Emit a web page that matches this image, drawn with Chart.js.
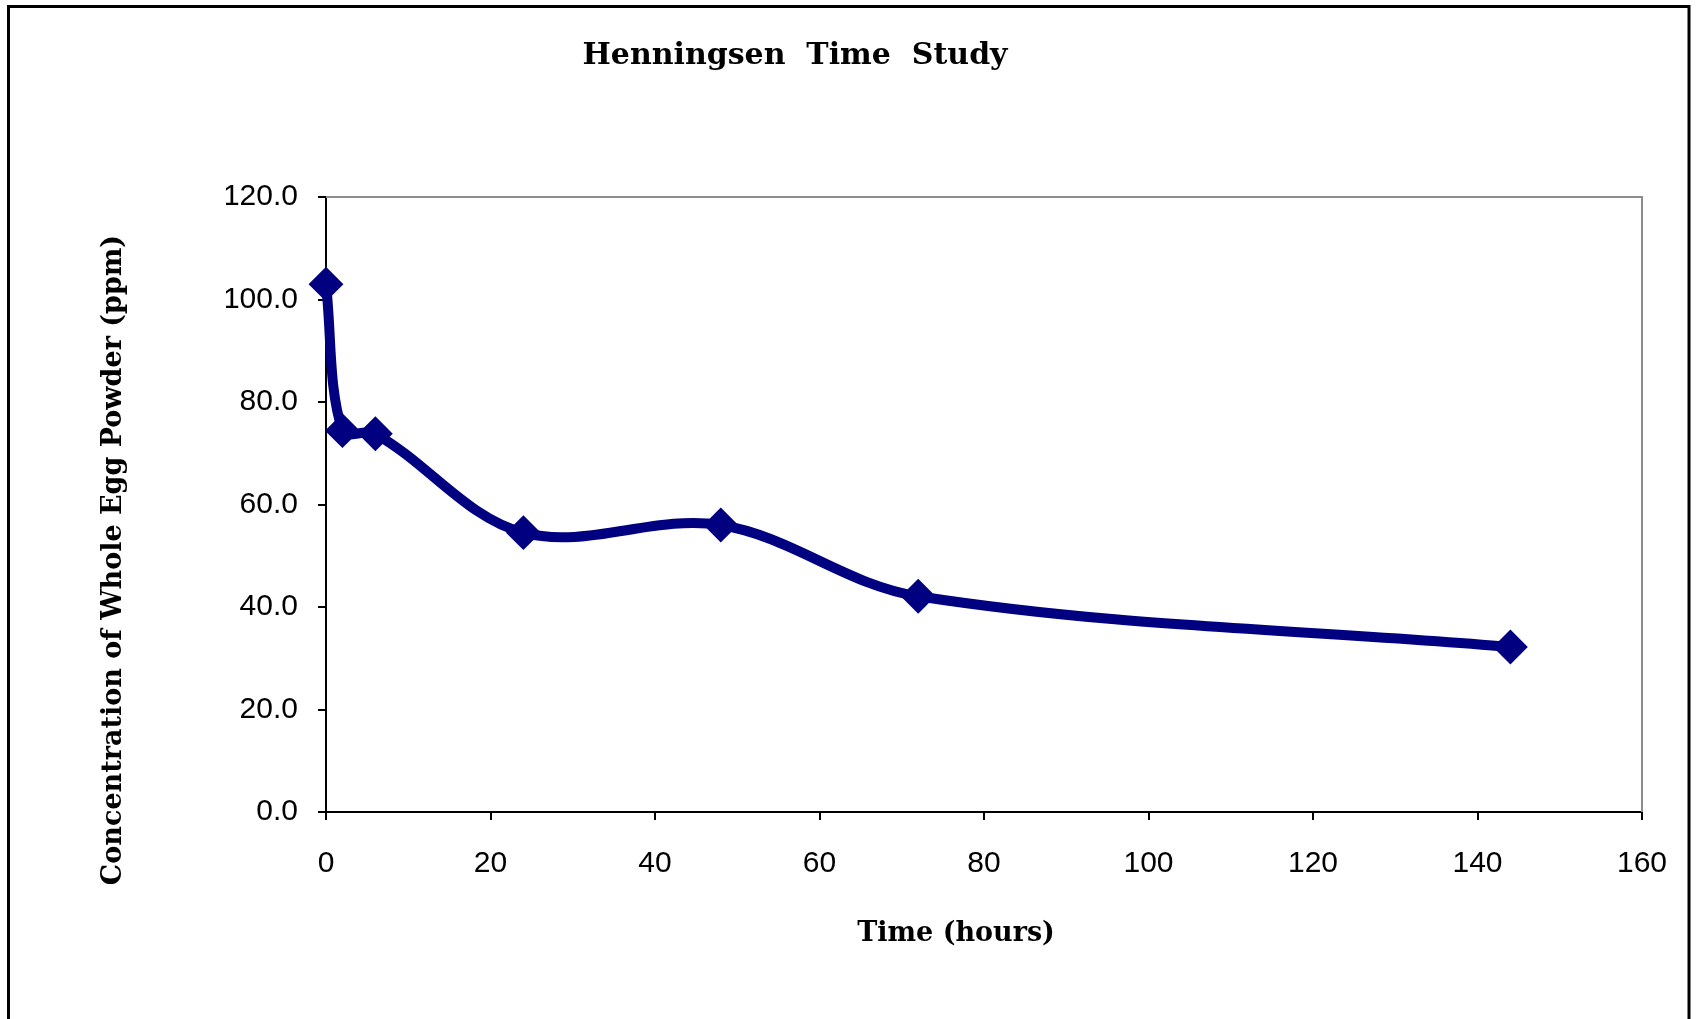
<!DOCTYPE html>
<html>
<head>
<meta charset="utf-8">
<title>Henningsen Time Study</title>
<script src="https://cdn.jsdelivr.net/npm/chart.js@4/dist/chart.umd.min.js"></script>
<style>
    html, body { margin: 0; padding: 0; background: #ffffff; }
    #wrap { width: 1696px; height: 1019px; position: relative; }
</style>
</head>
<body>
<div id="wrap"><canvas id="timeChart" width="1696" height="1019"></canvas></div>
<script>
const hours = [0, 2, 6, 24, 48, 72, 144];
const concentration = [103.0, 74.4, 73.8, 54.5, 56.0, 42.1, 32.2];
const xTicks = [0, 20, 40, 60, 80, 100, 120, 140, 160];
const yTicks = [0, 20, 40, 60, 80, 100, 120];

const chartTitle = 'Henningsen  Time  Study';
const xTitle = 'Time (hours)';
const yTitle = 'Concentration of Whole Egg Powder (ppm)';

const serifBold = 'bold 30px "DejaVu Serif", "Liberation Serif", serif';
const serifBoldAxis = 'bold 27px "DejaVu Serif", "Liberation Serif", serif';

// frame, plot outline and the hand placed titles
const decorations = {
    id: 'decorations',
    beforeDatasetsDraw(chart) {
        const { ctx, chartArea } = chart;
        ctx.save();
        ctx.strokeStyle = '#8c8c8c';
        ctx.lineWidth = 2;
        ctx.beginPath();
        ctx.moveTo(chartArea.left, chartArea.top);
        ctx.lineTo(chartArea.right, chartArea.top);
        ctx.lineTo(chartArea.right, chartArea.bottom);
        ctx.stroke();
        ctx.restore();
    },
    afterDraw(chart) {
        const { ctx } = chart;
        ctx.save();

        ctx.strokeStyle = '#000000';
        ctx.lineWidth = 3;
        ctx.beginPath();
        ctx.moveTo(8.5, 1019);
        ctx.lineTo(8.5, 6.5);
        ctx.lineTo(1689, 6.5);
        ctx.lineTo(1689, 1019);
        ctx.stroke();

        ctx.fillStyle = '#000000';
        ctx.textAlign = 'center';
        ctx.textBaseline = 'alphabetic';

        ctx.font = serifBold;
        ctx.fillText(chartTitle, 795, 64);

        ctx.font = serifBoldAxis;
        ctx.fillText(xTitle, 956, 941);

        ctx.translate(121, 560);
        ctx.rotate(-Math.PI / 2);
        ctx.fillText(yTitle, 0, 0);

        ctx.restore();
    }
};

const tickFont = { family: '"Liberation Sans", Arial, sans-serif', size: 30 };

new Chart(document.getElementById('timeChart'), {
    type: 'line',
    data: {
        datasets: [{
            label: 'Concentration',
            data: hours.map((h, i) => ({ x: h, y: concentration[i] })),
            borderColor: '#000080',
            backgroundColor: '#000080',
            borderWidth: 10,
            tension: 0.35,
            pointStyle: 'rectRot',
            pointRadius: 16,
            pointBorderWidth: 2,
            pointBorderColor: '#000080',
            pointBackgroundColor: '#000080',
            clip: false
        }]
    },
    options: {
        responsive: false,
        animation: false,
        devicePixelRatio: 1,
        layout: {
            padding: { left: 226, right: 54, top: 197, bottom: 107 }
        },
        plugins: {
            legend: { display: false },
            tooltip: { enabled: false },
            title: { display: false }
        },
        scales: {
            x: {
                type: 'linear',
                min: 0,
                max: 160,
                afterFit(scale) { scale.height = 100; },
                afterBuildTicks(scale) { scale.ticks = xTicks.map(v => ({ value: v })); },
                grid: {
                    drawOnChartArea: false,
                    drawTicks: true,
                    tickLength: 8,
                    color: '#000000',
                    lineWidth: 2
                },
                border: { display: true, color: '#000000', width: 2 },
                ticks: {
                    color: '#000000',
                    font: tickFont,
                    padding: 26,
                    maxRotation: 0,
                    callback: v => v.toString()
                }
            },
            y: {
                type: 'linear',
                min: 0,
                max: 120,
                afterFit(scale) { scale.width = 100; },
                afterBuildTicks(scale) { scale.ticks = yTicks.map(v => ({ value: v })); },
                grid: {
                    drawOnChartArea: false,
                    drawTicks: true,
                    tickLength: 8,
                    color: '#000000',
                    lineWidth: 2
                },
                border: { display: true, color: '#000000', width: 2 },
                ticks: {
                    color: '#000000',
                    font: tickFont,
                    padding: 20,
                    callback: v => v.toFixed(1)
                }
            }
        }
    },
    plugins: [decorations]
});
</script>
</body>
</html>
